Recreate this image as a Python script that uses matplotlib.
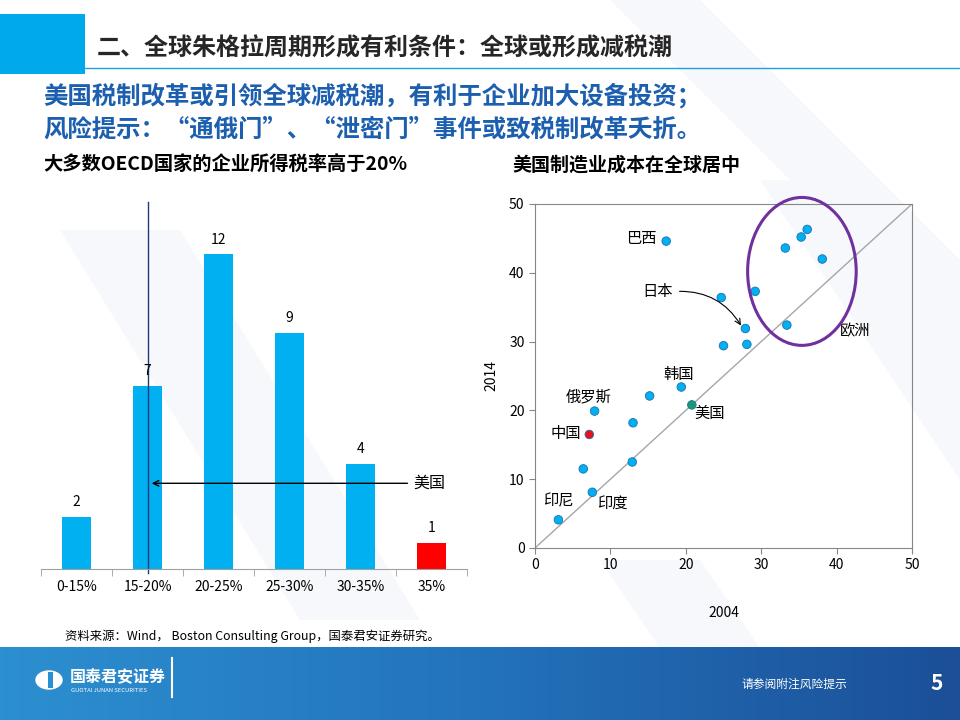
import numpy as np
import matplotlib.pyplot as plt
from matplotlib.patches import Rectangle, Ellipse, Polygon
from matplotlib.colors import LinearSegmentedColormap

plt.rcParams['font.family'] = ['Noto Sans CJK SC', 'DejaVu Sans']

# données : taux d'imposition OECD
tax_bins = ['0-15%', '15-20%', '20-25%', '25-30%', '30-35%', '35%']
n_countries = [2, 7, 12, 9, 4, 1]
bar_colors = ['#00B0F0'] * 5 + ['#FF0000']

# données : coût de fabrication 2004 vs 2014
cost_2004 = [17.4, 24.7, 29.2, 27.9, 25.0, 28.1, 33.2, 35.3, 36.1, 38.1, 33.4,
             19.4, 15.2, 20.8, 7.9, 13.0, 7.2, 6.4, 12.9, 7.6, 3.1]
cost_2014 = [44.6, 36.4, 37.3, 31.9, 29.4, 29.6, 43.6, 45.2, 46.3, 42.0, 32.4,
             23.4, 22.1, 20.8, 19.9, 18.2, 16.5, 11.5, 12.5, 8.1, 4.1]
point_colors = ['#00B0F0'] * 21
point_colors[13] = '#1A9A6C'  # 美国
point_colors[16] = '#E8101E'  # 中国

fig = plt.figure(figsize=(9.6, 7.2), dpi=100)

# fond : bandes diagonales claires
bg = fig.add_axes([0, 0, 1, 1])
bg.set_xlim(0, 960)
bg.set_ylim(720, 0)
bg.axis('off')
for pts in [[(610, 0), (700, 0), (960, 260), (960, 350)],
            [(60, 230), (180, 230), (420, 620), (300, 620)],
            [(760, 180), (860, 180), (960, 330), (960, 480)],
            [(600, 560), (700, 560), (760, 648), (660, 648)]]:
    bg.add_patch(Polygon(pts, closed=True, color='#F7F8FB', lw=0, zorder=0))

# en-tête
bg.add_patch(Rectangle((0, 14), 85, 60, color='#00A9EC', lw=0))
bg.plot([85, 960], [68, 68], color='#1CA0E0', lw=1)
bg.text(97, 49, '二、全球朱格拉周期形成有利条件：全球或形成减税潮', fontsize=17.3,
        fontweight='bold', color='#262626', va='center')
bg.text(43, 96, '美国税制改革或引领全球减税潮，有利于企业加大设备投资；', fontsize=17.6,
        fontweight='bold', color='#1D5FAF', va='center')
bg.text(43, 129, '风险提示：“通俄门”、“泄密门”事件或致税制改革夭折。', fontsize=17.6,
        fontweight='bold', color='#1D5FAF', va='center')
bg.text(43, 165, '大多数OECD国家的企业所得税率高于20%', fontsize=13.9, fontweight='bold',
        color='black', va='center')
bg.text(512, 165, '美国制造业成本在全球居中', fontsize=13.7, fontweight='bold',
        color='black', va='center')
bg.text(65, 636, '资料来源：Wind， Boston Consulting Group，国泰君安证券研究。',
        fontsize=8.9, color='black', va='center')

# pied de page en dégradé
cmap = LinearSegmentedColormap.from_list('foot', ['#2C8FD0', '#2373BB', '#1B4F98'])
bg.imshow(np.linspace(0, 1, 256)[None, :], cmap=cmap, aspect='auto',
          extent=[0, 960, 720, 647], zorder=1)
bg.set_xlim(0, 960)
bg.set_ylim(720, 0)
bg.add_patch(Ellipse((49, 680), 26, 18, color='white', zorder=2))
bg.add_patch(Rectangle((48, 672), 5, 16, color='#2C8FD0', zorder=3, lw=0))
bg.text(70, 677, '国泰君安证券', fontsize=11.5, fontweight='bold', color='white',
        va='center', zorder=3)
bg.text(71, 690, 'GUOTAI JUNAN SECURITIES', fontsize=4.2, color='white',
        va='center', zorder=3)
bg.plot([172, 172], [658, 697], color='white', lw=1.5, zorder=3)
bg.text(742, 684, '请参阅附注风险提示', fontsize=8.5, color='white', va='center', zorder=3)
bg.text(930, 684, '5', fontsize=15, fontweight='bold', color='white',
        va='center', zorder=3)

# graphique 1 : histogramme
ax1 = fig.add_axes([0.0427, 0.2097, 0.4438, 0.5097])
x = np.arange(len(tax_bins))
ax1.bar(x, n_countries, width=0.4, color=bar_colors)
for xi, v in zip(x, n_countries):
    ax1.text(xi, v + 0.3, str(v), ha='center', va='bottom', fontsize=10)
ax1.set_xlim(-0.5, 5.5)
ax1.set_ylim(0, 14)
ax1.set_xticks(x)
ax1.set_xticklabels(tax_bins, fontsize=10)
ax1.set_xticks(np.arange(-0.5, 6, 1), minor=True)
ax1.tick_params(axis='x', which='major', length=0, pad=8)
ax1.tick_params(axis='x', which='minor', length=5, color='#A0A0A0', direction='out')
ax1.set_yticks([])
for s in ['top', 'right', 'left']:
    ax1.spines[s].set_visible(False)
ax1.spines['bottom'].set_color('#A0A0A0')
ax1.patch.set_alpha(0)
ax1.axvline(1, ymin=-0.01, ymax=1, color='#1F3A7A', lw=1, clip_on=False)
ax1.annotate('', xy=(1.02, 3.27), xytext=(4.7, 3.27),
             arrowprops=dict(arrowstyle='->', color='black', lw=1))
ax1.text(4.75, 3.27, '美国', fontsize=11.5, va='center', ha='left')

# graphique 2 : nuage de points
ax2 = fig.add_axes([0.5573, 0.2389, 0.3927, 0.4778])
ax2.plot([0, 50], [0, 50], color='#A6A6A6', lw=1, zorder=1)
ax2.scatter(cost_2004, cost_2014, s=38, c=point_colors, edgecolors='#1F6FB0',
            linewidths=0.6, zorder=3)
ax2.set_xlim(0, 50)
ax2.set_ylim(0, 50)
ax2.set_xticks(range(0, 51, 10))
ax2.set_yticks(range(0, 51, 10))
ax2.tick_params(labelsize=10, color='#868686', length=4)
for s in ax2.spines.values():
    s.set_color('#868686')
ax2.patch.set_alpha(0)
ax2.set_xlabel('2004', fontsize=10, labelpad=24)
ax2.set_ylabel('2014', fontsize=10, labelpad=8)

labels = [('巴西', 14.1, 45.0), ('日本', 16.2, 37.3), ('欧洲', 42.4, 31.5),
          ('韩国', 19.1, 25.3), ('美国', 23.1, 19.6), ('俄罗斯', 7.1, 21.9),
          ('中国', 4.1, 16.6), ('印尼', 3.1, 6.8), ('印度', 10.3, 6.3)]
for name, lx, ly in labels:
    ax2.text(lx, ly, name, fontsize=11, ha='center', va='center', zorder=4)
ax2.annotate('', xy=(27.5, 32.0), xytext=(18.8, 37.3),
             arrowprops=dict(arrowstyle='->', color='black', lw=0.8,
                             connectionstyle='arc3,rad=-0.3'))
ax2.add_patch(Ellipse((35.4, 40.2), 14.4, 21.5, fill=False, edgecolor='#7030A0',
                      lw=2.2, clip_on=False, zorder=5))

plt.savefig('out.png', dpi=100)
